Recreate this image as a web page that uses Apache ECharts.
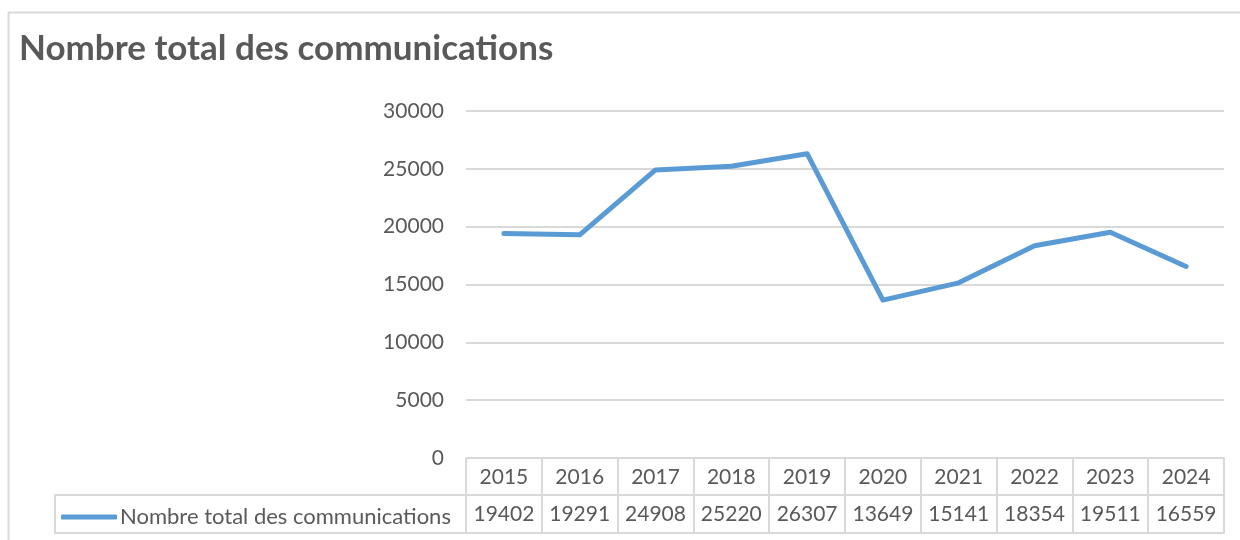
<!DOCTYPE html>
<html>
<head>
<meta charset="utf-8">
<script src="https://cdn.jsdelivr.net/npm/echarts@6/dist/echarts.min.js"></script>
<style>
  html, body { margin: 0; padding: 0; background: #fff; }
  #chart { width: 1240px; height: 540px; }
</style>
</head>
<body>
<div id="chart"></div>
<script>
// data
const years = ['2015', '2016', '2017', '2018', '2019', '2020', '2021', '2022', '2023', '2024']
const counts = [19402, 19291, 24908, 25220, 26307, 13649, 15141, 18354, 19511, 16559]
const seriesName = 'Nombre total des communications'

const font = 'Lato'
const textColor = '#595959'
const gridColor = '#d9d9d9'

const chart = echarts.init(document.getElementById('chart'))

const option = {
  backgroundColor: '#fff',
  animation: false,
  textStyle: { fontFamily: font },
  title: {
    text: seriesName,
    left: 14,
    top: 26,
    textStyle: { fontFamily: font, fontSize: 35, fontWeight: 'bold', color: textColor }
  },
  legend: {
    left: 56,
    top: 501,
    icon: 'roundRect',
    itemWidth: 56,
    itemHeight: 5,
    textStyle: { fontFamily: font, fontSize: 22, color: textColor, padding: [0, 0, 0, -2] },
    data: [seriesName]
  },
  grid: { left: 466, right: 16, top: 111, bottom: 82 },
  xAxis: [
    {
      type: 'category',
      data: years,
      boundaryGap: true,
      position: 'bottom',
      axisLine: { lineStyle: { color: gridColor, width: 2 } },
      axisTick: { show: true, interval: 0, length: 75, lineStyle: { color: gridColor, width: 2 } },
      axisLabel: { interval: 0, margin: 9, fontSize: 21, color: textColor, fontFamily: font }
    },
    {
      // value row of the data table
      type: 'category',
      data: years,
      boundaryGap: true,
      position: 'bottom',
      offset: 37,
      axisLine: { lineStyle: { color: gridColor, width: 2 } },
      axisTick: { show: false },
      axisLabel: {
        interval: 0, margin: 9, fontSize: 21, color: textColor, fontFamily: font,
        formatter: (v, i) => String(counts[i])
      }
    },
    {
      type: 'category',
      data: years,
      position: 'bottom',
      offset: 75,
      axisLine: { lineStyle: { color: gridColor, width: 2 } },
      axisTick: { show: false },
      axisLabel: { show: false }
    }
  ],
  yAxis: {
    type: 'value',
    min: 0,
    max: 30000,
    interval: 5000,
    axisLine: { show: false },
    axisTick: { show: false },
    axisLabel: {
      margin: 22, fontSize: 21, color: textColor, fontFamily: font,
      formatter: v => String(v)
    },
    splitLine: { lineStyle: { color: gridColor, width: 2 } }
  },
  graphic: [
    {
      type: 'rect',
      shape: { x: 8.5, y: 12.5, width: 1300, height: 600 },
      style: { fill: null, stroke: gridColor, lineWidth: 2 },
      silent: true
    },
    {
      // legend cell of the data table
      type: 'rect',
      shape: { x: 55, y: 495, width: 411, height: 38 },
      style: { fill: null, stroke: gridColor, lineWidth: 2 },
      silent: true
    }
  ],
  series: [
    {
      name: seriesName,
      type: 'line',
      data: counts,
      showSymbol: false,
      symbol: 'none',
      lineStyle: { color: '#5b9bd5', width: 5, cap: 'round', join: 'round' },
      itemStyle: { color: '#5b9bd5' }
    }
  ]
}

chart.setOption(option)
</script>
</body>
</html>
